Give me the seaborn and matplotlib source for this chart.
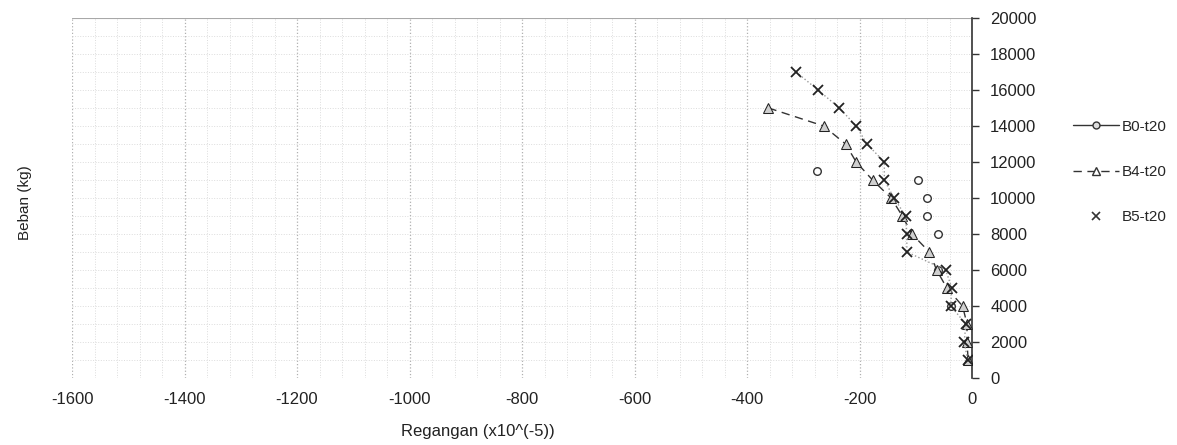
import numpy as np
import matplotlib
matplotlib.use('Agg')
import matplotlib.pyplot as plt
from matplotlib.lines import Line2D
import seaborn as sns

# load (kg) and strain (x10^-5)
b0_load = [11500, 11000, 10000, 9000, 8000, 6000, 4000]
b0_strain = [-275, -97, -80, -80, -60, -60, -38]

b4_load = [15000, 14000, 13000, 12000, 11000, 10000, 9000, 8000, 7000, 6000, 5000, 4000, 3000, 2000, 1000]
b4_strain = [-362, -264, -225, -206, -177, -144, -124, -107, -76, -63, -45, -17, -9, -9, -7]

b5_load = [17000, 16000, 15000, 14000, 13000, 12000, 11000, 10000, 9000, 8000, 7000, 6000, 5000, 4000, 3000, 2000, 1000]
b5_strain = [-313, -274, -236, -206, -187, -156, -156, -139, -118, -116, -116, -47, -36, -38, -11, -14, -8]

sns.set_style('white')
plt.rcParams['font.family'] = ['Liberation Sans', 'DejaVu Sans']
plt.rcParams['axes.unicode_minus'] = False

fig = plt.figure(figsize=(11.77, 4.45), dpi=100)
ax = fig.add_axes([0.0612, 0.1506, 0.7647, 0.809])

# faint grid like the scanned original
ax.set_xticks(np.arange(-1600, 1, 40), minor=True)
ax.set_yticks(np.arange(0, 20001, 1000), minor=True)
ax.grid(which='minor', color='#dcdcdc', linestyle=':', linewidth=0.7)
ax.grid(which='major', axis='x', color='#b0b0b0', linestyle=':', linewidth=0.9)
ax.grid(which='major', axis='y', color='#dcdcdc', linestyle=':', linewidth=0.7)
ax.axhline(20000, color='#a8a8a8', linewidth=0.8)

sns.scatterplot(x=b0_strain, y=b0_load, ax=ax, marker='o', s=30,
                facecolor='white', edgecolor='#333333', linewidth=1.0, zorder=3)
# estimator=None so repeated strain values are not averaged together
sns.lineplot(x=b4_strain, y=b4_load, ax=ax, sort=False, estimator=None,
             color='#333333', linestyle=(0, (6, 4)), linewidth=1.0, marker='^',
             markersize=7, markerfacecolor='#cfcfcf', markeredgecolor='#222222',
             zorder=4)
sns.lineplot(x=b5_strain, y=b5_load, ax=ax, sort=False, estimator=None,
             color='#999999', linestyle=':', linewidth=1.0, marker='x',
             markersize=7, markeredgecolor='#222222', markeredgewidth=1.3,
             zorder=5)

ax.set_xlim(-1600, 0)
ax.set_ylim(0, 20000)
ax.set_xticks(np.arange(-1600, 1, 200))
ax.set_yticks(np.arange(0, 20001, 2000))
ax.yaxis.tick_right()
ax.tick_params(axis='y', which='major', direction='out', length=5, width=1,
               color='#333333', labelsize=12, pad=8, labelcolor='#222222')
ax.tick_params(axis='y', which='minor', length=0)
ax.tick_params(axis='x', which='both', length=0, labelsize=12, pad=10,
               labelcolor='#222222')
for s in ['left', 'top', 'bottom']:
    ax.spines[s].set_visible(False)
ax.spines['right'].set_color('#333333')
ax.spines['right'].set_linewidth(1.2)

ax.set_xlabel('Regangan (x10^(-5))', fontsize=12, color='#222222')
ax.xaxis.set_label_coords(0.451, -0.128)
fig.text(0.021, 0.544, 'Beban (kg)', rotation=90, fontsize=11,
         va='center', ha='center', color='#222222')

handles = [
    Line2D([], [], color='#333333', linewidth=1.0, marker='o', markersize=5,
           markerfacecolor='#dddddd', markeredgecolor='#333333'),
    Line2D([], [], color='#333333', linewidth=1.0, linestyle=(0, (6, 4)), marker='^',
           markersize=6, markerfacecolor='white', markeredgecolor='#333333'),
    Line2D([], [], color='#333333', linewidth=0, marker='x', markersize=6,
           markeredgewidth=1.2),
]
fig.legend(handles, ['B0-t20', 'B4-t20', 'B5-t20'], loc='upper left',
           bbox_to_anchor=(0.912, 0.731), frameon=False, fontsize=11,
           handlelength=3.0, labelspacing=2.05, handletextpad=0.15,
           borderpad=0, borderaxespad=0)

fig.savefig('out.png', dpi=100)
